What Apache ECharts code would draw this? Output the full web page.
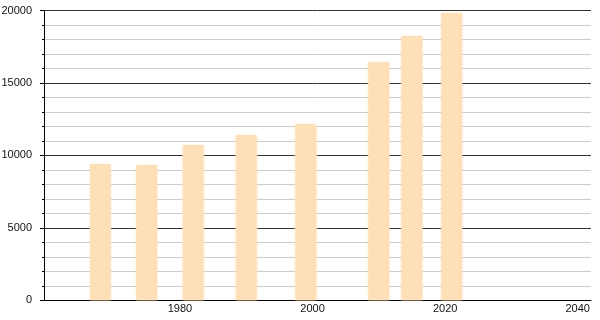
<!DOCTYPE html>
<html>
<head>
<meta charset="utf-8">
<script src="https://cdn.jsdelivr.net/npm/echarts@6/dist/echarts.min.js"></script>
<style>
html,body{margin:0;padding:0;background:#fff;}
#chart{width:600px;height:320px;}
</style>
</head>
<body>
<div id="chart"></div>
<script>
var years = [1968, 1975, 1982, 1990, 1999, 2010, 2015, 2021];
var population = [9400, 9330, 10720, 11400, 12160, 16420, 18240, 19820];
var xTickLabels = [1980, 2000, 2020, 2040];
var yTickValues = [0, 5000, 10000, 15000, 20000];

var chart = echarts.init(document.getElementById('chart'));
var font = '"Liberation Sans", Arial, sans-serif';
chart.setOption({
  animation: false,
  backgroundColor: '#fff',
  grid: { left: 44, right: 9, top: 10.5, bottom: 19.7, containLabel: false, outerBoundsMode: 'none' },
  xAxis: {
    type: 'value',
    min: 1959.5,
    max: 2042,
    axisLine: { show: true, lineStyle: { color: '#000', width: 1 } },
    axisTick: { show: false },
    splitLine: { show: false },
    axisLabel: {
      customValues: xTickLabels,
      color: '#111',
      fontFamily: font,
      fontSize: 11,
      margin: 3,
      formatter: function (v) { return String(v); }
    }
  },
  yAxis: {
    type: 'value',
    min: 0,
    max: 20000,
    interval: 5000,
    axisLine: { show: true, lineStyle: { color: '#000', width: 1 } },
    axisTick: { show: true, length: 4, lineStyle: { color: '#000' } },
    minorTick: { show: true, splitNumber: 5, length: 2, lineStyle: { color: '#000' } },
    splitLine: { show: true, lineStyle: { color: '#333', width: 1 } },
    minorSplitLine: { show: true, lineStyle: { color: '#ccc', width: 1 } },
    axisLabel: {
      color: '#111',
      fontFamily: font,
      fontSize: 11,
      margin: 12,
      customValues: yTickValues,
      formatter: function (v) { return String(v); }
    }
  },
  series: [{
    type: 'bar',
    barWidth: 21,
    data: years.map(function (y, i) { return [y, population[i]]; }),
    itemStyle: { color: '#fee0b8', shadowBlur: 3, shadowColor: 'rgba(254,224,184,0.9)' }
  }]
});
</script>
</body>
</html>
